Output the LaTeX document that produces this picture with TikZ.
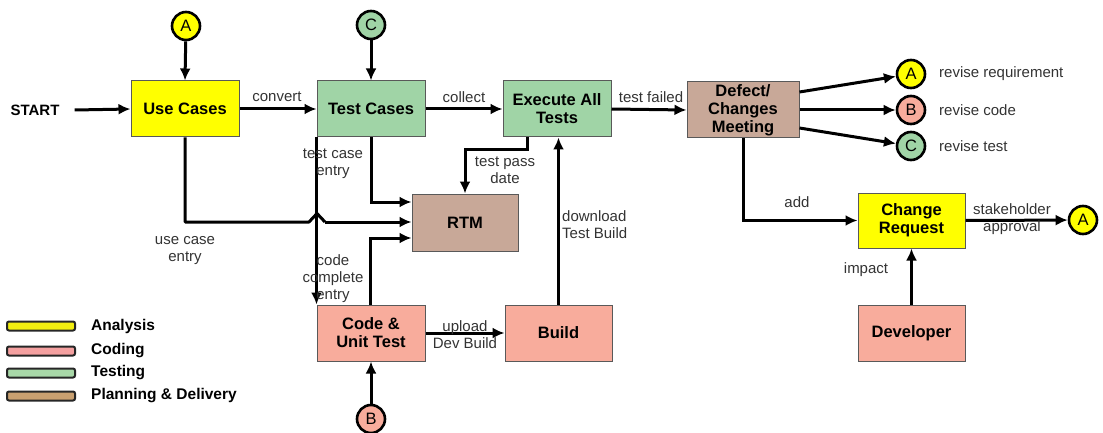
\documentclass[tikz,border=0pt]{standalone}
\usepackage{fontspec}
\setmainfont{Liberation Sans}
\usetikzlibrary{arrows.meta}

\definecolor{anaY}{HTML}{FFFF00}
\definecolor{codeR}{HTML}{F8AC9C}
\definecolor{testG}{HTML}{A0D4A6}
\definecolor{planT}{HTML}{C8A898}
\definecolor{legY}{HTML}{F2EE10}
\definecolor{legR}{HTML}{F4A0A0}
\definecolor{legG}{HTML}{A8D8A8}
\definecolor{legT}{HTML}{C9A070}
\definecolor{lbl}{HTML}{333333}

\tikzset{
  proc/.style={draw=black!65, line width=1pt, minimum width=108pt, minimum height=56pt,
    inner sep=0pt, align=center, font=\fontsize{16.5}{18}\selectfont\bfseries},
  conn/.style={circle, draw=black, line width=2.6pt, minimum size=28pt, inner sep=0pt,
    font=\fontsize{16.5}{16}\selectfont},
  arr/.style={draw=black, line width=3pt, -{Latex[length=12pt,width=11pt]}},
  wire/.style={draw=black, line width=3pt},
  lab/.style={text=lbl, align=center, inner sep=0pt, font=\fontsize{15}{17}\selectfont},
  legbar/.style={draw=black!85, line width=2pt, rounded corners=2pt, minimum width=68pt,
    minimum height=9pt, inner sep=0pt},
  legtxt/.style={anchor=west, inner sep=0pt, font=\fontsize{15.5}{17}\selectfont\bfseries}
}

\begin{document}
\begin{tikzpicture}[x=1pt,y=-1pt]
\useasboundingbox (0,0) rectangle (1103,433);

% process boxes
\node[proc, fill=anaY] (uc) at (185,109) {Use Cases};
\node[proc, fill=testG] (tc) at (371,109) {Test Cases};
\node[proc, fill=testG] (ex) at (557,109) {Execute All\\Tests};
\node[proc, fill=planT, minimum width=112pt] (dm) at (743,110) {Defect/\\Changes\\Meeting};
\node[proc, fill=planT, minimum width=106pt, minimum height=57pt] (rtm) at (465,222.5) {RTM};
\node[proc, fill=codeR] (cut) at (371,333) {Code \&\\Unit Test};
\node[proc, fill=codeR, minimum width=107pt] (bld) at (558.5,333) {Build};
\node[proc, fill=anaY, minimum width=107pt, minimum height=55pt] (cr) at (911.5,220.5) {Change\\Request};
\node[proc, fill=codeR, minimum width=107pt] (dev) at (911.5,333) {Developer};

% connectors
\node[conn, fill=anaY] (ca1) at (186,26) {A};
\node[conn, fill=testG] (cc1) at (371,25) {C};
\node[conn, fill=codeR] (cb1) at (371,419) {B};
\node[conn, fill=anaY] (ca2) at (911,74) {A};
\node[conn, fill=codeR] (cb2) at (911,110) {B};
\node[conn, fill=testG] (cc2) at (911,146) {C};
\node[conn, fill=anaY] (ca3) at (1083,220) {A};

% start
\node[inner sep=0pt, font=\fontsize{15}{17}\selectfont\bfseries] (start) at (35,110) {START};
\draw[arr] ([xshift=15pt]start.east) -- (uc.west);

% main flow
\draw[arr] (ca1) -- (uc.north);
\draw[arr] (cc1) -- (tc.north);
\draw[arr] (uc.east) -- (tc.west);
\draw[arr] (tc.east) -- (ex.west);
\draw[arr] (ex.east) -- (dm.west);
\draw[arr] ([yshift=18pt]dm.east) -- (ca2);
\draw[arr] (dm.east) -- (cb2);
\draw[arr] ([yshift=-18pt]dm.east) -- (cc2);
\draw[arr] (dm.south) |- (cr.west);
\draw[arr] (cr.east) -- (ca3);
\draw[arr] (dev.north) -- (cr.south);

% entries into the RTM
\draw[arr] (tc.south) |- ([yshift=20.5pt]rtm.west);
\coordinate (hopL) at (309,222);
\coordinate (hopP) at (317,213.5);
\coordinate (hopR) at (325,222);
\draw[wire, line join=round] (uc.south) |- (hopL) -- (hopP) -- (hopR);
\draw[arr] (hopR) -- (rtm.west |- hopR);
\draw[arr] ([xshift=-1pt]cut.north) |- ([yshift=-15.5pt]rtm.west);
\draw[arr] ([xshift=-30pt]ex.south) -- ++(0,12) -| (rtm.north);
\draw[arr] (tc.south west) -- (cut.north west);

% build flow
\draw[arr] (cb1) -- (cut.south);
\draw[arr] (cut.east) -- (bld.west);
\draw[arr] (bld.north) -- (bld.north |- ex.south);

% edge labels
\node[lab] (lconv) at (277,97) {convert};
\node[lab] (lcoll) at (464,97) {collect};
\node[lab] (lfail) at (651,97) {test failed};
\node[lab] (ltce) at (333,164) {test case\\entry};
\node[lab] (luce) at (185,251) {use case\\entry};
\node[lab] (lcce) at (333,279) {code\\complete\\entry};
\node[lab] (ltpd) at (505,170.5) {test pass\\date};
\node[lab, anchor=west, align=left] (ldtb) at (562,224.5) {download\\Test Build};
\node[lab] (ludb) at (465,334.5) {upload\\Dev Build};
\node[lab] (ladd) at (797,202) {add};
\node[lab] (lsta) at (1012,219.5) {stakeholder\\approval};
\node[lab] (limp) at (866,270) {impact};
\node[lab, anchor=west] (lrr) at (939,74) {revise requirement};
\node[lab, anchor=west] (lrc) at (939,110) {revise code};
\node[lab, anchor=west] (lrt) at (939,146) {revise test};

% legend
\node[legbar, fill=legY] (kA) at (41,326) {};
\node[legbar, fill=legR] (kC) at (41,351) {};
\node[legbar, fill=legG] (kT) at (41,373) {};
\node[legbar, fill=legT] (kP) at (41,396) {};
\node[legtxt] (tA) at (91,326) {Analysis};
\node[legtxt] (tC) at (91,351) {Coding};
\node[legtxt] (tT) at (91,373) {Testing};
\node[legtxt] (tP) at (91,396) {Planning \& Delivery};
\end{tikzpicture}
\end{document}
